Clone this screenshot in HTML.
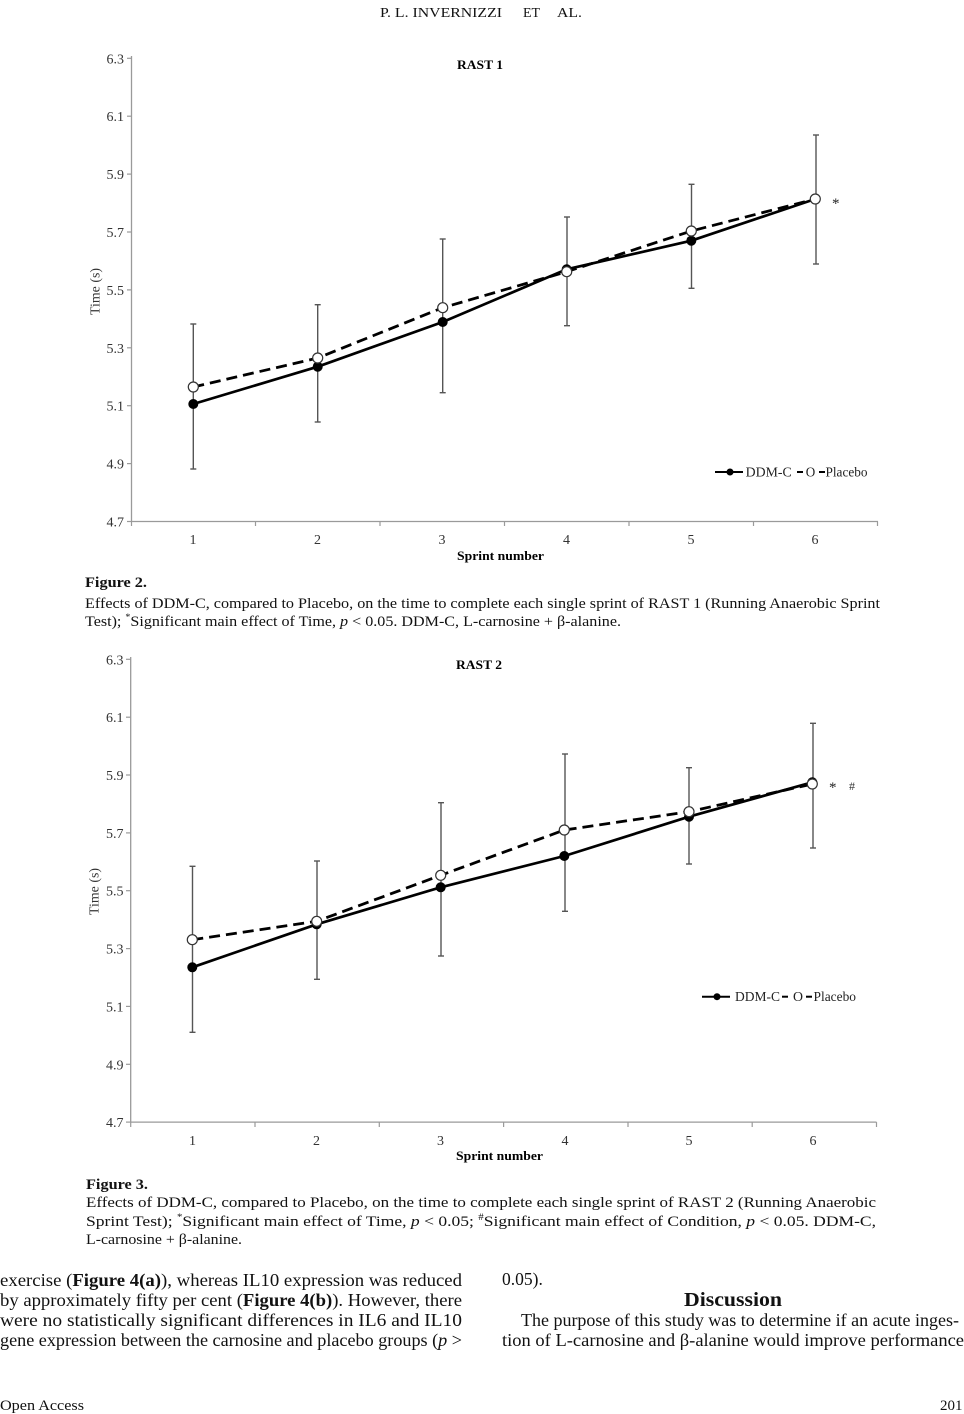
<!DOCTYPE html>
<html><head><meta charset="utf-8"><style>
html,body{margin:0;padding:0;background:#fff;}
svg{display:block;}
text{font-family:"Liberation Serif","Times New Roman",serif;}
</style></head><body>
<svg width="964" height="1414" viewBox="0 0 964 1414" xmlns="http://www.w3.org/2000/svg">
<rect width="964" height="1414" fill="#fff"/>
<!-- Header -->
<g font-size="14" fill="#111">
<text x="380" y="17" textLength="122" lengthAdjust="spacingAndGlyphs">P. L. INVERNIZZI</text>
<text x="523" y="17" textLength="17" lengthAdjust="spacingAndGlyphs">ET</text>
<text x="557" y="17" textLength="25" lengthAdjust="spacingAndGlyphs">AL.</text>
</g>

<!-- ================= CHART 1 ================= -->
<g>
<text x="457" y="69" font-size="13" font-weight="bold" textLength="46" lengthAdjust="spacingAndGlyphs">RAST 1</text>
<line x1="131.5" y1="56" x2="131.5" y2="522" stroke="#9a9a9a" stroke-width="1.3"/>
<line x1="131" y1="521.5" x2="878" y2="521.5" stroke="#9a9a9a" stroke-width="1.3"/>
<g stroke="#9a9a9a" stroke-width="1.2">
<line x1="127" y1="58.3" x2="131.5" y2="58.3"/><line x1="127" y1="116.2" x2="131.5" y2="116.2"/>
<line x1="127" y1="174.1" x2="131.5" y2="174.1"/><line x1="127" y1="232" x2="131.5" y2="232"/>
<line x1="127" y1="289.9" x2="131.5" y2="289.9"/><line x1="127" y1="347.8" x2="131.5" y2="347.8"/>
<line x1="127" y1="405.7" x2="131.5" y2="405.7"/><line x1="127" y1="463.6" x2="131.5" y2="463.6"/>
<line x1="127" y1="521.5" x2="131.5" y2="521.5"/>
<line x1="131.5" y1="521.5" x2="131.5" y2="526"/><line x1="255.5" y1="521.5" x2="255.5" y2="526"/>
<line x1="380" y1="521.5" x2="380" y2="526"/><line x1="504.5" y1="521.5" x2="504.5" y2="526"/>
<line x1="629" y1="521.5" x2="629" y2="526"/><line x1="753.5" y1="521.5" x2="753.5" y2="526"/>
<line x1="877.5" y1="521.5" x2="877.5" y2="526"/>
</g>
<g font-size="14" fill="#333" text-anchor="end">
<text x="124" y="63.3">6.3</text><text x="124" y="121.2">6.1</text><text x="124" y="179.1">5.9</text>
<text x="124" y="237">5.7</text><text x="124" y="294.9">5.5</text><text x="124" y="352.8">5.3</text>
<text x="124" y="410.7">5.1</text><text x="124" y="468.6">4.9</text><text x="124" y="526.5">4.7</text>
</g>
<g font-size="14" fill="#333" text-anchor="middle">
<text x="193" y="544">1</text><text x="317.5" y="544">2</text><text x="442" y="544">3</text>
<text x="566.5" y="544">4</text><text x="691" y="544">5</text><text x="815" y="544">6</text>
</g>
<text x="500.5" y="560" font-size="13" font-weight="bold" text-anchor="middle" textLength="87" lengthAdjust="spacingAndGlyphs">Sprint number</text>
<text transform="translate(99.5,291.5) rotate(-90)" font-size="14" fill="#333" text-anchor="middle" textLength="47" lengthAdjust="spacingAndGlyphs">Time (s)</text>
<g stroke="#555" stroke-width="1.4">
<line x1="193.3" y1="324" x2="193.3" y2="469"/><line x1="190.3" y1="324" x2="196.3" y2="324"/><line x1="190.3" y1="469" x2="196.3" y2="469"/>
<line x1="317.7" y1="304.7" x2="317.7" y2="422"/><line x1="314.7" y1="304.7" x2="320.7" y2="304.7"/><line x1="314.7" y1="422" x2="320.7" y2="422"/>
<line x1="442.7" y1="239" x2="442.7" y2="392.7"/><line x1="439.7" y1="239" x2="445.7" y2="239"/><line x1="439.7" y1="392.7" x2="445.7" y2="392.7"/>
<line x1="567" y1="217" x2="567" y2="325.7"/><line x1="564" y1="217" x2="570" y2="217"/><line x1="564" y1="325.7" x2="570" y2="325.7"/>
<line x1="691.5" y1="184.3" x2="691.5" y2="288.3"/><line x1="688.5" y1="184.3" x2="694.5" y2="184.3"/><line x1="688.5" y1="288.3" x2="694.5" y2="288.3"/>
<line x1="816" y1="135" x2="816" y2="264"/><line x1="813" y1="135" x2="819" y2="135"/><line x1="813" y1="264" x2="819" y2="264"/>
</g>
<polyline points="193.3,387 317.7,358 442.7,307.7 566.7,271.7 691.3,231 815.3,199" fill="none" stroke="#000" stroke-width="2.8" stroke-dasharray="11 6"/>
<polyline points="193.3,404 317.7,366.7 442.7,322 566.7,269.3 691.3,240.7 815.3,199" fill="none" stroke="#000" stroke-width="2.7"/>
<g fill="#000">
<circle cx="193.3" cy="404" r="5"/><circle cx="317.7" cy="366.7" r="5"/><circle cx="442.7" cy="322" r="5"/>
<circle cx="566.7" cy="269.3" r="5"/><circle cx="691.3" cy="240.7" r="5"/><circle cx="815.3" cy="199" r="5"/>
</g>
<g fill="#fff" stroke="#333" stroke-width="1.2">
<circle cx="193.3" cy="387" r="5"/><circle cx="317.7" cy="358" r="5"/><circle cx="442.7" cy="307.7" r="5"/>
<circle cx="566.7" cy="271.7" r="5"/><circle cx="691.3" cy="231" r="5"/><circle cx="815.3" cy="199" r="5"/>
</g>
<text x="832" y="208" font-size="15" fill="#222">*</text>
<line x1="715" y1="472" x2="743" y2="472" stroke="#000" stroke-width="2"/>
<circle cx="730" cy="472" r="3.5" fill="#000"/>
<g font-size="13.5" fill="#222">
<text x="745.7" y="476.5" textLength="46" lengthAdjust="spacingAndGlyphs">DDM-C</text>
<text x="805.7" y="476.5" textLength="9.5" lengthAdjust="spacingAndGlyphs">O</text>
<text x="825.5" y="476.5" textLength="42" lengthAdjust="spacingAndGlyphs">Placebo</text>
</g>
<line x1="797" y1="472" x2="803" y2="472" stroke="#000" stroke-width="2"/>
<line x1="819" y1="472" x2="825" y2="472" stroke="#000" stroke-width="2"/>
</g>

<!-- Caption 2 -->
<g font-size="14.5" fill="#111">
<text x="85" y="587" font-weight="bold" textLength="62" lengthAdjust="spacingAndGlyphs">Figure 2.</text>
<text x="85" y="608" textLength="795" lengthAdjust="spacingAndGlyphs">Effects of DDM-C, compared to Placebo, on the time to complete each single sprint of RAST 1 (Running Anaerobic Sprint</text>
<text x="85" y="626" textLength="536" lengthAdjust="spacingAndGlyphs">Test); <tspan font-size="9" dy="-6">*</tspan><tspan dy="6">Significant main effect of Time, </tspan><tspan font-style="italic">p</tspan> &lt; 0.05. DDM-C, L-carnosine + β-alanine.</text>
</g>

<!-- ================= CHART 2 ================= -->
<g>
<text x="456" y="669" font-size="13" font-weight="bold" textLength="46" lengthAdjust="spacingAndGlyphs">RAST 2</text>
<line x1="130.7" y1="657" x2="130.7" y2="1122.5" stroke="#9a9a9a" stroke-width="1.3"/>
<line x1="130.7" y1="1122.1" x2="876.5" y2="1122.1" stroke="#9a9a9a" stroke-width="1.3"/>
<g stroke="#9a9a9a" stroke-width="1.2">
<line x1="126" y1="659.3" x2="130.7" y2="659.3"/><line x1="126" y1="717.2" x2="130.7" y2="717.2"/>
<line x1="126" y1="775" x2="130.7" y2="775"/><line x1="126" y1="832.9" x2="130.7" y2="832.9"/>
<line x1="126" y1="890.7" x2="130.7" y2="890.7"/><line x1="126" y1="948.6" x2="130.7" y2="948.6"/>
<line x1="126" y1="1006.4" x2="130.7" y2="1006.4"/><line x1="126" y1="1064.3" x2="130.7" y2="1064.3"/>
<line x1="126" y1="1122.1" x2="130.7" y2="1122.1"/>
<line x1="130.7" y1="1122.1" x2="130.7" y2="1127"/><line x1="255" y1="1122.1" x2="255" y2="1127"/>
<line x1="379.3" y1="1122.1" x2="379.3" y2="1127"/><line x1="503.6" y1="1122.1" x2="503.6" y2="1127"/>
<line x1="628" y1="1122.1" x2="628" y2="1127"/><line x1="752.2" y1="1122.1" x2="752.2" y2="1127"/>
<line x1="876.5" y1="1122.1" x2="876.5" y2="1127"/>
</g>
<g font-size="14" fill="#333" text-anchor="end">
<text x="123.5" y="664.3">6.3</text><text x="123.5" y="722.2">6.1</text><text x="123.5" y="780">5.9</text>
<text x="123.5" y="837.9">5.7</text><text x="123.5" y="895.7">5.5</text><text x="123.5" y="953.6">5.3</text>
<text x="123.5" y="1011.4">5.1</text><text x="123.5" y="1069.3">4.9</text><text x="123.5" y="1127.1">4.7</text>
</g>
<g font-size="14" fill="#333" text-anchor="middle">
<text x="192.5" y="1145">1</text><text x="316.5" y="1145">2</text><text x="440.5" y="1145">3</text>
<text x="565" y="1145">4</text><text x="689" y="1145">5</text><text x="813" y="1145">6</text>
</g>
<text x="499.5" y="1160" font-size="13" font-weight="bold" text-anchor="middle" textLength="87" lengthAdjust="spacingAndGlyphs">Sprint number</text>
<text transform="translate(98.5,891.5) rotate(-90)" font-size="14" fill="#333" text-anchor="middle" textLength="47" lengthAdjust="spacingAndGlyphs">Time (s)</text>
<g stroke="#555" stroke-width="1.4">
<line x1="192.5" y1="866.3" x2="192.5" y2="1032.3"/><line x1="189.5" y1="866.3" x2="195.5" y2="866.3"/><line x1="189.5" y1="1032.3" x2="195.5" y2="1032.3"/>
<line x1="317" y1="861" x2="317" y2="979.3"/><line x1="314" y1="861" x2="320" y2="861"/><line x1="314" y1="979.3" x2="320" y2="979.3"/>
<line x1="441" y1="802.7" x2="441" y2="956"/><line x1="438" y1="802.7" x2="444" y2="802.7"/><line x1="438" y1="956" x2="444" y2="956"/>
<line x1="565" y1="754" x2="565" y2="911.3"/><line x1="562" y1="754" x2="568" y2="754"/><line x1="562" y1="911.3" x2="568" y2="911.3"/>
<line x1="689" y1="767.7" x2="689" y2="864"/><line x1="686" y1="767.7" x2="692" y2="767.7"/><line x1="686" y1="864" x2="692" y2="864"/>
<line x1="813" y1="723.3" x2="813" y2="848"/><line x1="810" y1="723.3" x2="816" y2="723.3"/><line x1="810" y1="848" x2="816" y2="848"/>
</g>
<polyline points="192.3,939.7 316.7,921.3 440.7,875.3 564.3,830 689,811.7 812.3,784" fill="none" stroke="#000" stroke-width="2.8" stroke-dasharray="11 6"/>
<polyline points="192.3,967.3 316.7,924.3 440.7,887.3 564.3,856 689,816.7 812.3,782.3" fill="none" stroke="#000" stroke-width="2.7"/>
<g fill="#000">
<circle cx="192.3" cy="967.3" r="5"/><circle cx="316.7" cy="924.3" r="5"/><circle cx="440.7" cy="887.3" r="5"/>
<circle cx="564.3" cy="856" r="5"/><circle cx="689" cy="816.7" r="5"/><circle cx="812.3" cy="782.3" r="5"/>
</g>
<g fill="#fff" stroke="#333" stroke-width="1.2">
<circle cx="192.3" cy="939.7" r="5"/><circle cx="316.7" cy="921.3" r="5"/><circle cx="440.7" cy="875.3" r="5"/>
<circle cx="564.3" cy="830" r="5"/><circle cx="689" cy="811.7" r="5"/><circle cx="812.3" cy="784" r="5"/>
</g>
<text x="829" y="792" font-size="15" fill="#222">*</text>
<text x="849" y="790" font-size="12" fill="#333">#</text>
<line x1="702" y1="996.7" x2="730" y2="996.7" stroke="#000" stroke-width="2"/>
<circle cx="717" cy="996.7" r="3.5" fill="#000"/>
<g font-size="13.5" fill="#222">
<text x="735" y="1001.2" textLength="45" lengthAdjust="spacingAndGlyphs">DDM-C</text>
<text x="793" y="1001.2" textLength="10" lengthAdjust="spacingAndGlyphs">O</text>
<text x="813.5" y="1001.2" textLength="42.5" lengthAdjust="spacingAndGlyphs">Placebo</text>
</g>
<line x1="782" y1="996.7" x2="788" y2="996.7" stroke="#000" stroke-width="2"/>
<line x1="806" y1="996.7" x2="812" y2="996.7" stroke="#000" stroke-width="2"/>
</g>

<!-- Caption 3 -->
<g font-size="14.5" fill="#111">
<text x="86" y="1189" font-weight="bold" textLength="62" lengthAdjust="spacingAndGlyphs">Figure 3.</text>
<text x="86" y="1207" textLength="790" lengthAdjust="spacingAndGlyphs">Effects of DDM-C, compared to Placebo, on the time to complete each single sprint of RAST 2 (Running Anaerobic</text>
<text x="86" y="1226" textLength="790" lengthAdjust="spacingAndGlyphs">Sprint Test); <tspan font-size="9" dy="-6">*</tspan><tspan dy="6">Significant main effect of Time, </tspan><tspan font-style="italic">p</tspan> &lt; 0.05; <tspan font-size="9" dy="-6">#</tspan><tspan dy="6">Significant main effect of Condition, </tspan><tspan font-style="italic">p</tspan> &lt; 0.05. DDM-C,</text>
<text x="86" y="1244" textLength="156" lengthAdjust="spacingAndGlyphs">L-carnosine + β-alanine.</text>
</g>

<!-- Body text -->
<g font-size="17.5" fill="#111">
<text x="0" y="1286" textLength="462" lengthAdjust="spacingAndGlyphs">exercise (<tspan font-weight="bold">Figure 4(a)</tspan>), whereas IL10 expression was reduced</text>
<text x="0" y="1306" textLength="462" lengthAdjust="spacingAndGlyphs">by approximately fifty per cent (<tspan font-weight="bold">Figure 4(b)</tspan>). However, there</text>
<text x="0" y="1326" textLength="462" lengthAdjust="spacingAndGlyphs">were no statistically significant differences in IL6 and IL10</text>
<text x="0" y="1346" textLength="462" lengthAdjust="spacingAndGlyphs">gene expression between the carnosine and placebo groups (<tspan font-style="italic">p</tspan> &gt;</text>
<text x="502" y="1285">0.05).</text>
<text x="684" y="1306" font-size="19.5" font-weight="bold" textLength="98" lengthAdjust="spacingAndGlyphs">Discussion</text>
<text x="521" y="1326" textLength="438" lengthAdjust="spacingAndGlyphs">The purpose of this study was to determine if an acute inges-</text>
<text x="502" y="1346" textLength="462" lengthAdjust="spacingAndGlyphs">tion of L-carnosine and β-alanine would improve performance</text>
</g>
<g font-size="14.5" fill="#111">
<text x="0" y="1410" textLength="84" lengthAdjust="spacingAndGlyphs">Open Access</text>
<text x="940" y="1410" textLength="22.5" lengthAdjust="spacingAndGlyphs">201</text>
</g>
</svg>
</body></html>
